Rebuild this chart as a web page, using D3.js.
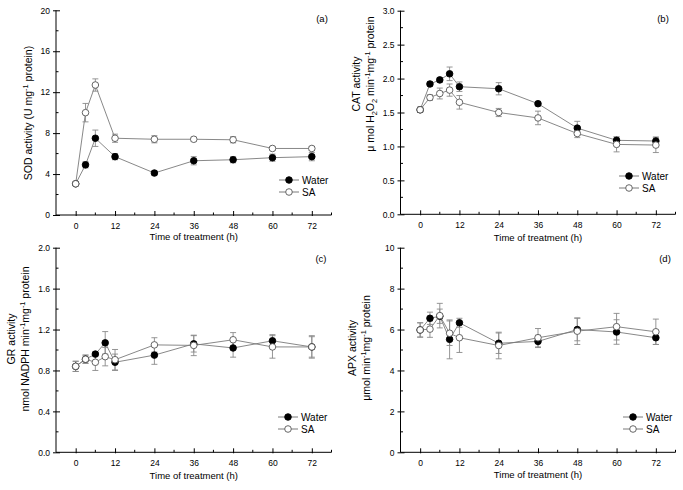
<!DOCTYPE html>
<html><head><meta charset="utf-8">
<script src="https://cdn.jsdelivr.net/npm/d3@7/dist/d3.min.js"></script>
<style>body{margin:0;background:#fff}svg{display:block;font-family:"Liberation Sans",Arial,sans-serif}</style>
</head><body>
<svg id="c" width="683" height="490"></svg>
<script>
// ---------- data ----------
const timesA = [0, 3, 6, 12, 24, 36, 48, 60, 72];
const timesB = [0, 3, 6, 9, 12, 24, 36, 48, 60, 72];
const xTicks = [0, 12, 24, 36, 48, 60, 72];
const seriesNames = ["Water", "SA"];

const sodWater    = [3.05, 4.9, 7.5, 5.7, 4.1, 5.3, 5.4, 5.6, 5.7];
const sodWaterErr = [0.15, 0.3, 0.8, 0.3, 0.2, 0.4, 0.3, 0.35, 0.4];
const sodSA       = [3.05, 10.0, 12.7, 7.5, 7.4, 7.4, 7.35, 6.5, 6.5];
const sodSAErr    = [0.15, 0.9, 0.6, 0.4, 0.35, 0.2, 0.3, 0.2, 0.2];
const sodTicks    = [0, 4, 8, 12, 16, 20];

const catWater    = [1.54, 1.92, 1.98, 2.07, 1.88, 1.85, 1.63, 1.27, 1.09, 1.08];
const catWaterErr = [0.03, 0.03, 0.03, 0.1, 0.07, 0.09, 0.03, 0.1, 0.05, 0.06];
const catSA       = [1.54, 1.72, 1.78, 1.83, 1.65, 1.50, 1.42, 1.19, 1.03, 1.02];
const catSAErr    = [0.04, 0.04, 0.08, 0.09, 0.1, 0.06, 0.1, 0.06, 0.11, 0.11];
const catTicks    = [0, 0.5, 1.0, 1.5, 2.0, 2.5, 3.0];

const grWater     = [0.84, 0.91, 0.96, 1.07, 0.88, 0.95, 1.06, 1.02, 1.09, 1.03];
const grWaterErr  = [0.05, 0.04, 0.02, 0.11, 0.08, 0.09, 0.08, 0.09, 0.06, 0.1];
const grSA        = [0.84, 0.91, 0.88, 0.935, 0.905, 1.05, 1.045, 1.10, 1.03, 1.03];
const grSAErr     = [0.05, 0.04, 0.08, 0.09, 0.1, 0.07, 0.1, 0.07, 0.11, 0.11];
const grTicks     = [0, 0.4, 0.8, 1.2, 1.6, 2.0];

const apxWater    = [5.98, 6.55, 6.65, 5.52, 6.33, 5.33, 5.42, 6.0, 5.88, 5.6];
const apxWaterErr = [0.35, 0.3, 0.35, 0.95, 0.22, 0.5, 0.3, 0.55, 0.6, 0.33];
const apxSA       = [5.98, 6.02, 6.68, 5.82, 5.6, 5.22, 5.6, 5.92, 6.14, 5.89];
const apxSAErr    = [0.35, 0.4, 0.6, 0.6, 0.72, 0.65, 0.45, 0.65, 0.65, 0.62];
const apxTicks    = [0, 2, 4, 6, 8, 10];

// ---------- drawing ----------
const svg = d3.select("#c");
const LINE = "#7a7a7a", ERR = "#8a8a8a";

function rich(sel, parts) {
  let shift = 0;
  parts.forEach(([t, m]) => {
    const target = m === "sup" ? -3.8 : m === "sub" ? 2.8 : 0;
    const ts = sel.append("tspan").attr("dy", target - shift).text(t);
    if (m !== "n") ts.attr("font-size", "0.7em");
    shift = target;
  });
}

function panel(cfg) {
  const g = svg.append("g");
  const x = d3.scaleLinear().domain([-6, 78]).range(cfg.xr);
  const y = d3.scaleLinear().domain(cfg.yd).range(cfg.yr);
  const [x0, x1] = cfg.xr, yb = cfg.yr[0], yt = cfg.yr[1];

  g.append("line").attr("x1", x0).attr("x2", x0).attr("y1", yb).attr("y2", yt).attr("stroke", "#000");
  g.append("line").attr("x1", x0).attr("x2", x1).attr("y1", yb).attr("y2", yb).attr("stroke", "#000");

  const xAxis = d3.axisBottom(x).tickValues(xTicks).tickSize(0).tickPadding(8);
  const xa = g.append("g").attr("transform", `translate(0,${yb})`).call(xAxis);
  xa.select(".domain").remove();
  xa.selectAll("text").attr("font-size", 8.5).attr("font-family", "Liberation Sans, Arial, sans-serif");
  xa.selectAll(".tick").append("line").attr("y1", 1).attr("y2", -4).attr("stroke", "#000");
  const minorX = d3.range(-6, 79, 12).filter(v => v > -6);
  g.selectAll(".mx").data(minorX).join("line")
    .attr("x1", d => x(d)).attr("x2", d => x(d)).attr("y1", yb).attr("y2", yb - 2.5).attr("stroke", "#000");

  const yAxis = d3.axisLeft(y).tickValues(cfg.yt).tickSize(0).tickPadding(6).tickFormat(cfg.fmt);
  const ya = g.append("g").attr("transform", `translate(${x0},0)`).call(yAxis);
  ya.select(".domain").remove();
  ya.selectAll("text").attr("font-size", 8.5).attr("font-family", "Liberation Sans, Arial, sans-serif");
  ya.selectAll(".tick").append("line").attr("x1", -3).attr("x2", 4).attr("stroke", "#000");
  const ticks = cfg.yt, step = ticks[1] - ticks[0];
  const minorY = ticks.slice(0, -1).map(v => v + step / 2);
  g.selectAll(".my").data(minorY).join("line")
    .attr("x1", x0).attr("x2", x0 + 2.5).attr("y1", d => y(d)).attr("y2", d => y(d)).attr("stroke", "#000");

  const series = [
    { vals: cfg.water, err: cfg.waterErr, fill: "#000", stroke: "#000" },
    { vals: cfg.sa, err: cfg.saErr, fill: "#fff", stroke: "#555" }
  ];
  series.forEach(s => {
    const pts = cfg.times.map((t, i) => ({ t, v: s.vals[i], e: s.err[i] }));
    g.append("path").datum(pts)
      .attr("d", d3.line().x(d => x(d.t)).y(d => y(d.v)))
      .attr("fill", "none").attr("stroke", LINE).attr("stroke-width", 0.9);
    const eb = g.append("g").attr("stroke", ERR).attr("stroke-width", 0.9);
    eb.selectAll(".v").data(pts).join("line")
      .attr("x1", d => x(d.t)).attr("x2", d => x(d.t))
      .attr("y1", d => y(d.v - d.e)).attr("y2", d => y(d.v + d.e));
    eb.selectAll(".t").data(pts).join("line")
      .attr("x1", d => x(d.t) - 3).attr("x2", d => x(d.t) + 3)
      .attr("y1", d => y(d.v + d.e)).attr("y2", d => y(d.v + d.e));
    eb.selectAll(".b").data(pts).join("line")
      .attr("x1", d => x(d.t) - 3).attr("x2", d => x(d.t) + 3)
      .attr("y1", d => y(d.v - d.e)).attr("y2", d => y(d.v - d.e));
  });
  series.forEach(s => {
    const pts = cfg.times.map((t, i) => ({ t, v: s.vals[i] }));
    g.selectAll(null).data(pts).join("circle")
      .attr("cx", d => x(d.t)).attr("cy", d => y(d.v)).attr("r", 3.3)
      .attr("fill", s.fill).attr("stroke", s.stroke).attr("stroke-width", 0.9);
  });

  const lg = g.append("g");
  seriesNames.forEach((n, i) => {
    const ly = cfg.leg[1] + i * 12;
    const lx = cfg.leg[0];
    lg.append("line").attr("x1", lx - 10).attr("x2", lx + 10).attr("y1", ly).attr("y2", ly).attr("stroke", LINE);
    lg.append("circle").attr("cx", lx).attr("cy", ly).attr("r", 3.3)
      .attr("fill", series[i].fill).attr("stroke", series[i].stroke).attr("stroke-width", 0.9);
    lg.append("text").attr("x", lx + 13).attr("y", ly + 3.5).attr("font-size", 10).text(n);
  });

  g.append("text").attr("x", cfg.lab[0]).attr("y", cfg.lab[1]).attr("text-anchor", "middle")
    .attr("font-size", 9.5).text(cfg.label);

  g.append("text").attr("x", (x(0) + x(72)) / 2).attr("y", cfg.xtY).attr("text-anchor", "middle")
    .attr("font-size", 9.5).text("Time of treatment (h)");

  cfg.ytitles.forEach((parts, i) => {
    const t = g.append("text").attr("text-anchor", "middle").attr("font-size", 10.5)
      .attr("transform", `translate(${cfg.ytX[i]},${cfg.ytY}) rotate(-90)`);
    rich(t, parts);
  });
}

panel({
  times: timesA, water: sodWater, waterErr: sodWaterErr, sa: sodSA, saErr: sodSAErr,
  xr: [56, 331.5], yd: [0, 20], yr: [215, 10.3], yt: sodTicks, fmt: d3.format("d"),
  leg: [289, 180], lab: [322, 22], label: "(a)", xtY: 240,
  ytX: [32], ytY: 113,
  ytitles: [[["SOD activity (U mg", "n"], ["-1", "sup"], [" protein)", "n"]]]
});
panel({
  times: timesB, water: catWater, waterErr: catWaterErr, sa: catSA, saErr: catSAErr,
  xr: [400.5, 675.5], yd: [0, 3], yr: [214.3, 10.7], yt: catTicks, fmt: d3.format(".1f"),
  leg: [629, 176], lab: [663, 22], label: "(b)", xtY: 241,
  ytX: [360, 374], ytY: 84,
  ytitles: [[["CAT activity", "n"]],
            [["\u03bc mol H", "n"], ["2", "sub"], ["O", "n"], ["2", "sub"], [" min", "n"], ["-1", "sup"], ["mg", "n"], ["-1", "sup"], [" protein", "n"]]]
});
panel({
  times: timesB, water: grWater, waterErr: grWaterErr, sa: grSA, saErr: grSAErr,
  xr: [56, 331.5], yd: [0, 2], yr: [452.3, 247.7], yt: grTicks, fmt: d3.format(".1f"),
  leg: [288, 417], lab: [321, 262], label: "(c)", xtY: 479,
  ytX: [15, 29], ytY: 339,
  ytitles: [[["GR activity", "n"]],
            [["nmol NADPH  min", "n"], ["-1", "sup"], ["mg", "n"], ["-1", "sup"], [" protein", "n"]]]
});
panel({
  times: timesB, water: apxWater, waterErr: apxWaterErr, sa: apxSA, saErr: apxSAErr,
  xr: [400.5, 675.5], yd: [0, 10], yr: [452.3, 247.7], yt: apxTicks, fmt: d3.format("d"),
  leg: [633, 417], lab: [665, 262], label: "(d)", xtY: 478,
  ytX: [356, 370], ytY: 348,
  ytitles: [[["APX activity", "n"]],
            [["\u03bcmol  min", "n"], ["-1", "sup"], ["mg", "n"], ["-1", "sup"], [" protein", "n"]]]
});
</script>
</body></html>
